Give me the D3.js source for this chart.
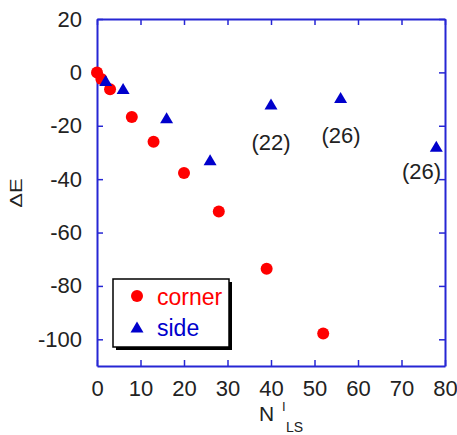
<!DOCTYPE html>
<html>
<head>
<meta charset="utf-8">
<script src="https://cdn.jsdelivr.net/npm/d3@7"></script>
<style>
  body { margin: 0; background: #fff; }
  text { font-family: "Liberation Sans", Arial, sans-serif; }
</style>
</head>
<body>
<div id="chart"></div>
<script>
// corner points (red circles)
const cornerX = [0, 1, 3, 8, 13, 20, 28, 39, 52];
const cornerY = [0, -2.5, -6.3, -16.7, -26, -37.7, -52.1, -73.6, -97.8];
// side points (blue triangles)
const sideX = [2, 6, 16, 26, 40, 56, 78];
const sideY = [-3, -6, -17, -32.7, -11.8, -9.4, -27.7];
// annotations next to some side points
const noteText = ["(22)", "(26)", "(26)"];
const noteX = [40, 56.1, 74.6];
const noteY = [-26.3, -23.8, -37.2];

const xTicks = [0, 10, 20, 30, 40, 50, 60, 70, 80];
const yTicks = [20, 0, -20, -40, -60, -80, -100];

const W = 457, H = 435;
const margin = { top: 19, right: 12, bottom: 69, left: 97 };
const axisColor = "#2626d4";

const svg = d3.select("#chart").append("svg")
  .attr("width", W).attr("height", H);

const x = d3.scaleLinear().domain([0, 80]).range([margin.left, W - margin.right]);
const y = d3.scaleLinear().domain([-110, 20]).range([H - margin.bottom, margin.top]);

const fmt = d => String(d); // plain hyphen for negatives

// frame with inward ticks
function styleAxis(g) {
  g.select(".domain").attr("stroke", axisColor).attr("stroke-width", 2);
  g.selectAll(".tick line").attr("stroke", axisColor).attr("stroke-width", 1.5);
  g.selectAll(".tick text").attr("fill", "#222").style("font-size", "22px");
}

svg.append("g")
  .attr("transform", `translate(0,${y(-110)})`)
  .call(d3.axisBottom(x).tickValues(xTicks).tickFormat(fmt).tickSizeInner(-6).tickSizeOuter(0).tickPadding(14))
  .call(styleAxis);

svg.append("g")
  .attr("transform", `translate(0,${y(20)})`)
  .call(d3.axisTop(x).tickValues(xTicks).tickSizeInner(-6).tickSizeOuter(0).tickFormat(""))
  .call(styleAxis);

svg.append("g")
  .attr("transform", `translate(${x(0)},0)`)
  .call(d3.axisLeft(y).tickValues(yTicks).tickFormat(fmt).tickSizeInner(-6).tickSizeOuter(0).tickPadding(15))
  .call(styleAxis);

svg.append("g")
  .attr("transform", `translate(${x(80)},0)`)
  .call(d3.axisRight(y).tickValues(yTicks).tickSizeInner(-6).tickSizeOuter(0).tickFormat(""))
  .call(styleAxis);

// triangle path centred on (0,0)
const triW = 13, triH = 11;
const triPath = `M0,${-triH / 2}L${triW / 2},${triH / 2}L${-triW / 2},${triH / 2}Z`;

svg.append("g").selectAll("circle")
  .data(cornerX.map((d, i) => [d, cornerY[i]]))
  .enter().append("circle")
  .attr("cx", d => x(d[0]))
  .attr("cy", d => y(d[1]))
  .attr("r", 6)
  .attr("fill", "#ff0000");

svg.append("g").selectAll("path")
  .data(sideX.map((d, i) => [d, sideY[i]]))
  .enter().append("path")
  .attr("d", triPath)
  .attr("transform", d => `translate(${x(d[0])},${y(d[1])})`)
  .attr("fill", "#0000cc");

svg.append("g").selectAll("text")
  .data(noteText)
  .enter().append("text")
  .attr("x", (d, i) => x(noteX[i]))
  .attr("y", (d, i) => y(noteY[i]))
  .attr("text-anchor", "middle")
  .attr("dominant-baseline", "central")
  .attr("fill", "#222")
  .style("font-size", "22px")
  .text(d => d);

// legend
const lg = svg.append("g");
lg.append("rect").attr("x", 116).attr("y", 282).attr("width", 116).attr("height", 68).attr("fill", "#000");
lg.append("rect").attr("x", 113).attr("y", 279).attr("width", 116).attr("height", 68)
  .attr("fill", "#fff").attr("stroke", "#000").attr("stroke-width", 1.5);
lg.append("circle").attr("cx", 137).attr("cy", 296).attr("r", 6).attr("fill", "#ff0000");
lg.append("path").attr("d", triPath).attr("transform", "translate(137,327)").attr("fill", "#0000cc");
lg.append("text").attr("x", 157).attr("y", 305).attr("fill", "#ff0000").style("font-size", "23px").text("corner");
lg.append("text").attr("x", 157).attr("y", 336).attr("fill", "#0000cc").style("font-size", "23px").text("side");

// axis titles
svg.append("text")
  .attr("transform", "translate(22,193) scale(0.75,1) rotate(-90)")
  .attr("text-anchor", "middle")
  .attr("fill", "#222")
  .style("font-size", "22px")
  .text("ΔE");

const xl = svg.append("text").attr("fill", "#222");
xl.append("tspan").attr("x", 259).attr("y", 421).style("font-size", "21px").text("N");
xl.append("tspan").attr("x", 282).attr("y", 411).style("font-size", "13px").text("I");
xl.append("tspan").attr("x", 286).attr("y", 432).style("font-size", "14px").text("LS");
</script>
</body>
</html>
